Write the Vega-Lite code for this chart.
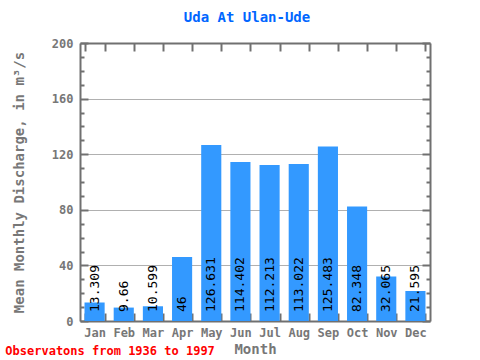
{
  "$schema": "https://vega.github.io/schema/vega-lite/v6.json",
  "padding": {"left": 5, "top": 11, "right": 5, "bottom": 5},
  "title": {"text": "Observatons from 1936 to 1997", "orient": "bottom", "anchor": "start", "frame": "bounds", "offset": -10, "dx": -7, "color": "#ff0000", "font": "DejaVu Sans Mono", "fontSize": 12, "fontWeight": "bold"},
  "vconcat": [
    {
      "title": {"text": "Uda At Ulan-Ude", "anchor": "middle", "color": "#0066ff", "font": "DejaVu Sans Mono", "fontSize": 14, "fontWeight": "bold", "offset": 12, "dx": -8},
      "width": 350,
      "height": 278,
      "data": {"values": [
        {"month": "Jan", "value": 13.309},
        {"month": "Feb", "value": 9.66},
        {"month": "Mar", "value": 10.599},
        {"month": "Apr", "value": 46},
        {"month": "May", "value": 126.631},
        {"month": "Jun", "value": 114.402},
        {"month": "Jul", "value": 112.213},
        {"month": "Aug", "value": 113.022},
        {"month": "Sep", "value": 125.483},
        {"month": "Oct", "value": 82.348},
        {"month": "Nov", "value": 32.065},
        {"month": "Dec", "value": 21.595}
      ]},
      "layer": [
        {
          "mark": {"type": "bar", "color": "#3399ff"},
          "encoding": {
            "x": {"field": "month", "type": "ordinal", "sort": null,
              "scale": {"paddingInner": 0.31, "paddingOuter": 0.155},
              "axis": {"orient": "bottom", "title": "Month", "labelAngle": 0, "tickBand": "extent", "tickSize": -8, "labelPadding": 14, "titlePadding": 4}},
            "y": {"field": "value", "type": "quantitative",
              "scale": {"domain": [0, 200], "nice": false},
              "axis": {"orient": "left", "title": "Mean Monthly Discharge, in  m³/s",
                "values": [0,10,20,30,40,50,60,70,80,90,100,110,120,130,140,150,160,170,180,190,200],
                "labelExpr": "datum.value % 40 === 0 ? datum.label : ''",
                "grid": true, "gridColor": "#b0b0b0", "gridWidth": 1,
                "gridOpacity": {"condition": {"test": "datum.value % 40 === 0 && datum.value > 0 && datum.value < 200", "value": 1}, "value": 0},
                "tickSize": {"condition": {"test": "datum.value % 40 === 0", "value": -8}, "value": -4},
                "labelPadding": 15, "titlePadding": 25}}
          }
        },
        {
          "mark": {"type": "text", "angle": 270, "align": "left", "baseline": "middle", "dx": 9, "font": "DejaVu Sans Mono", "fontSize": 13, "color": "#000000"},
          "encoding": {
            "x": {"field": "month", "type": "ordinal", "sort": null, "axis": null},
            "y": {"datum": 0, "type": "quantitative", "axis": null},
            "text": {"field": "value", "type": "nominal"}
          }
        },
        {
          "mark": {"type": "bar", "opacity": 0},
          "encoding": {
            "x": {"field": "month", "type": "ordinal", "sort": null,
              "axis": {"orient": "top", "title": null, "labels": false, "tickBand": "extent", "tickSize": -8}},
            "y": {"field": "value", "type": "quantitative",
              "axis": {"orient": "right", "title": null, "labels": false, "grid": false,
                "values": [0,10,20,30,40,50,60,70,80,90,100,110,120,130,140,150,160,170,180,190,200],
                "tickSize": {"condition": {"test": "datum.value % 40 === 0", "value": -8}, "value": -4}}}
          }
        }
      ],
      "resolve": {"axis": {"x": "independent", "y": "independent"}}
    }
  ],
  "config": {
    "view": {"stroke": null},
    "axis": {
      "labelFont": "DejaVu Sans Mono", "labelFontSize": 12, "labelFontWeight": "bold", "labelColor": "#777777",
      "titleFont": "DejaVu Sans Mono", "titleFontSize": 14, "titleFontWeight": "bold", "titleColor": "#777777",
      "domainColor": "#707070", "domainWidth": 2, "tickColor": "#707070", "tickWidth": 2
    }
  }
}
